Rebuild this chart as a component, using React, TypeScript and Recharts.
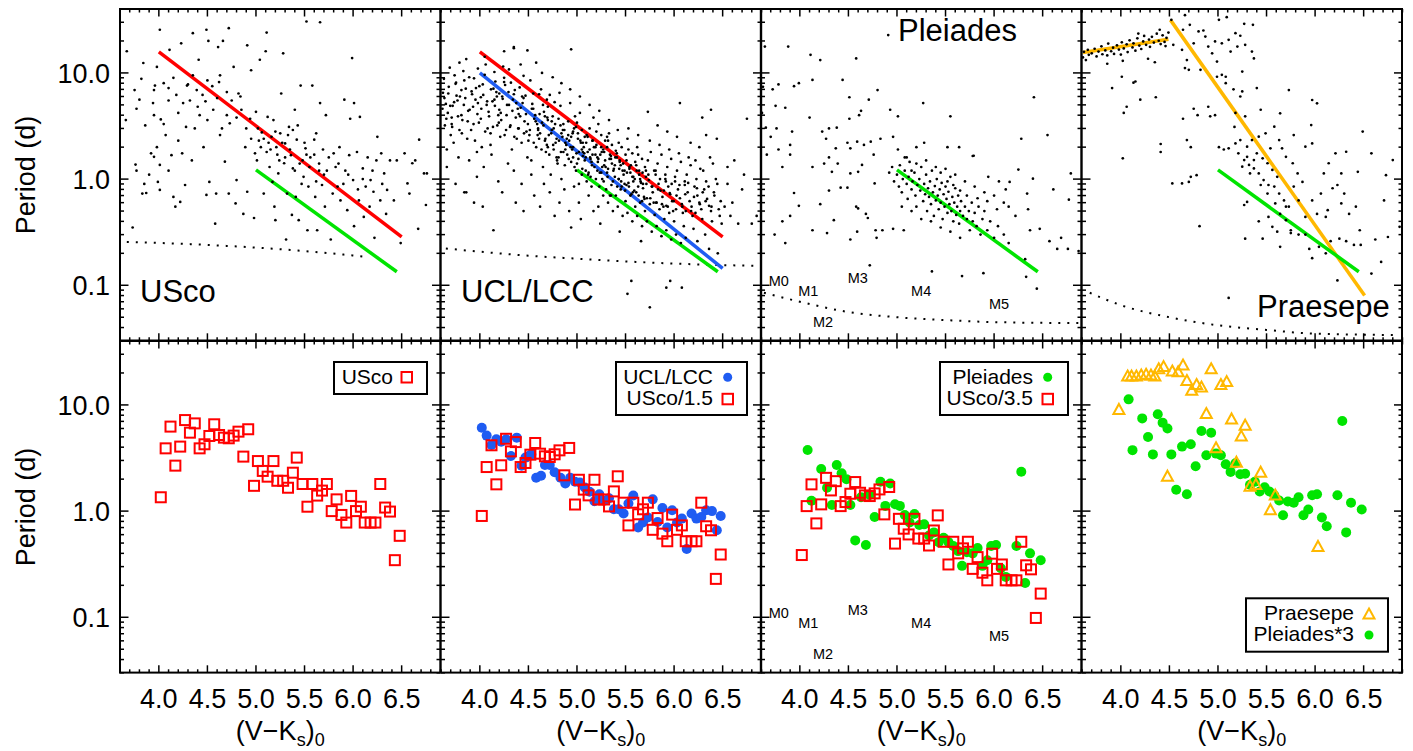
import React from 'react';
import { ComposedChart, Scatter, Line, XAxis, YAxis } from 'recharts';

type Pt = [number, number];

// ---------- axes ----------
const X_DOMAIN: [number, number] = [3.6, 6.9];
const Y_DOMAIN: [number, number] = [0.03, 40];
const X_MAJOR = [4.0, 4.5, 5.0, 5.5, 6.0, 6.5];
const X_LABELS = ['4.0', '4.5', '5.0', '5.5', '6.0', '6.5'];
const X_TICKS = [3.6, 3.7, 3.8, 3.9, 4.0, 4.1, 4.2, 4.3, 4.4, 4.5, 4.6, 4.7, 4.8, 4.9, 5.0, 5.1, 5.2, 5.3, 5.4, 5.5, 5.6, 5.7, 5.8, 5.9, 6.0, 6.1, 6.2, 6.3, 6.4, 6.5, 6.6, 6.7, 6.8, 6.9];
const Y_MAJOR = [0.1, 1, 10];
const Y_LABELS = ['0.1', '1.0', '10.0'];
const Y_TICKS = [0.03, 0.04, 0.05, 0.06, 0.07, 0.08, 0.09, 0.1, 0.2, 0.3, 0.4, 0.5, 0.6, 0.7, 0.8, 0.9, 1, 2, 3, 4, 5, 6, 7, 8, 9, 10, 20, 30, 40];

// ---------- top row: individual stars ----------
const USCO_FIELD: Pt[] = [
  [3.67,16],[3.75,6.9],[3.77,4.6],[3.76,1.37],[3.77,1.2],[3.73,0.35],[3.66,3.6],[3.84,12.4],[3.82,8.8],[3.80,5.6],[3.86,3.2],[3.87,0.74],[3.83,0.73],[3.92,1.75],[3.95,1.62],[3.98,11.4],[3.96,7.6],[3.95,6.9],[3.94,5.2],[4.01,25.5],[4.05,8],[4.02,3.65],[3.98,2.0],[4.01,1.36],[3.99,0.94],[4.01,0.79],[4.07,2.6],[4.10,5.5],[4.11,16.5],[4.13,1.68],[4.15,0.68],[4.17,0.55],[4.18,6.2],[4.20,4.2],[4.22,0.61],[4.23,19],[4.24,1.75],[4.27,0.88],[4.28,3.1],[4.29,7.6],[4.32,5.5],[4.34,1.5],[4.35,23.7],[4.37,3.0],[4.39,6.9],[4.41,13.3],[4.42,4.0],[4.46,2.0],[4.48,5.4],[4.49,25.5],[4.50,8.5],[4.52,0.94],[4.51,20],[4.49,0.71],[4.56,4.5],[4.58,0.38],[4.59,0.73],[4.61,17.5],[4.63,9.5],[4.63,2.6],[4.66,20],[4.68,1.46],[4.70,6.6],[4.72,0.73],[4.72,26.4],[4.73,3.35],[4.77,11.4],[4.79,0.59],[4.80,0.98],[4.82,6.4],[4.84,6.0],[4.87,0.47],[4.89,2.0],[4.91,18.2],[4.91,0.76],[4.94,3.7],[4.95,10.6],[4.98,0.43],[4.99,1.75],[5.00,4.3],[5.01,1.5],[5.03,2.3],[5.04,13.3],[5.06,2.75],[5.08,0.73],[5.10,16],[5.11,24],[5.11,1.8],[5.12,3.85],[5.14,1.3],[5.16,2.5],[5.17,0.94],[5.18,3.6],[5.19,0.55],[5.20,0.41],[5.21,2.0],[5.23,1.13],[5.25,2.7],[5.26,6.4],[5.28,15.3],[5.29,1.41],[5.30,2.17],[5.31,0.27],[5.32,0.73],[5.34,3.1],[5.36,1.68],[5.37,0.46],[5.38,1.26],[5.40,4.5],[5.41,0.68],[5.42,2.35],[5.43,3.2],[5.44,0.41],[5.46,7.6],[5.48,1.5],[5.49,1.05],[5.51,1.95],[5.53,0.33],[5.54,0.85],[5.56,1.6],[5.58,7.6],[5.60,2.35],[5.61,0.68],[5.62,2.7],[5.63,0.33],[5.65,1.2],[5.66,5.2],[5.68,0.88],[5.69,1.9],[5.71,0.55],[5.72,4.0],[5.73,1.2],[5.75,1.6],[5.77,0.27],[5.79,0.73],[5.80,1.75],[5.82,1.3],[5.84,0.85],[5.86,2.0],[5.87,0.63],[5.91,5.6],[5.92,1.2],[5.94,0.51],[5.96,1.68],[5.97,3.7],[5.99,13.8],[6.00,0.98],[6.01,5.2],[6.01,0.36],[6.04,1.8],[6.06,0.63],[6.07,3.85],[6.10,1.26],[6.11,0.44],[6.13,0.85],[6.15,1.6],[6.17,0.55],[6.18,0.98],[6.21,0.76],[6.22,0.28],[6.24,1.5],[6.25,2.5],[6.28,0.63],[6.29,1.75],[6.32,1.13],[6.34,0.47],[6.35,0.79],[6.38,1.5],[6.42,0.63],[6.45,1.5],[6.49,0.25],[6.53,1.75],[6.56,0.91],[6.58,0.73],[6.61,1.41],[6.64,1.5],[6.67,0.34],[6.68,2.35],[6.73,1.13],[6.75,0.57],[6.76,1.13],[5.52,30.5],[5.66,30],
  [5.05,2.0],[5.08,2.4],[5.15,1.9],[5.20,2.8],[5.22,1.7],[5.27,2.2],[5.30,1.6],[5.33,2.6],[5.35,1.9],[5.38,2.9],[5.45,1.4],[5.50,2.2],[5.55,1.3],[5.60,1.7],[5.65,1.4],[5.70,1.1],[5.02,3.0],[5.13,2.2],[5.24,1.5],[5.40,1.2],[5.47,0.9],[5.52,1.7],[5.62,0.95],[5.85,1.4],[5.90,0.9],[5.95,1.1],[6.05,0.8],[6.10,1.0],[6.20,1.2],[6.30,0.9],[4.90,3.0],[4.95,2.4],[4.85,4.5],[4.70,4.0],[4.60,5.8],[4.55,7.5],[4.45,6.2],[4.40,4.8],[4.30,7.8],[4.25,5.2],[4.15,9.0],[4.10,7.2],[4.05,3.3],[4.35,9.5],[4.62,8.2],[4.75,5.5],[4.80,3.8],[4.65,3.0],[4.50,3.6],[4.20,2.3],[4.10,1.2],[3.90,1.1],[3.85,0.9],[3.95,4.0],
];

const UCL_FIELD: Pt[] = [
  [3.62,6.5],[3.64,3.2],[3.63,8.8],[3.66,1.9],[3.65,5.1],[3.69,11.2],[3.67,4.2],[3.70,2.6],[3.68,7.4],[3.66,1.3],
  [3.74,9.5],[3.71,3.8],[3.76,6.1],[3.73,2.2],[3.79,12.5],[3.72,4.9],[3.78,1.6],[3.75,7.9],[3.71,3.3],[3.75,0.9],[3.77,5.5],[3.79,2.9],
  [3.83,10.4],[3.88,4.4],[3.81,6.9],[3.87,2.4],[3.84,8.5],[3.82,3.6],[3.89,1.5],[3.85,5.8],[3.86,13.5],[3.84,0.75],[3.86,0.75],[3.89,9.1],[3.81,4.0],
  [3.96,7.2],[3.91,2.9],[3.98,11.0],[3.93,4.8],[3.97,1.8],[3.92,6.3],[3.99,3.4],[3.94,8.9],[3.95,2.3],[3.98,5.2],[3.97,1.05],[3.94,0.6],
  [4.06,12.0],[4.01,5.9],[4.08,3.0],[4.03,7.8],[4.09,4.3],[4.02,2.0],[4.05,9.6],[4.04,1.3],[4.07,5.0],[4.03,0.55],[4.05,14.2],[4.01,3.7],
  [4.17,6.6],[4.11,2.7],[4.15,10.2],[4.19,4.0],[4.12,1.7],[4.14,7.1],[4.18,3.2],[4.13,5.4],[4.19,0.95],[4.16,8.3],[4.11,2.1],[4.14,0.33],
  [4.24,11.5],[4.28,5.0],[4.21,2.5],[4.26,7.7],[4.22,3.6],[4.29,1.4],[4.23,6.0],[4.25,9.0],[4.27,2.9],[4.23,0.75],[4.20,4.5],[4.25,16.0],
  [4.36,6.9],[4.31,3.1],[4.39,4.6],[4.33,1.9],[4.32,8.1],[4.38,2.4],[4.34,5.6],[4.35,1.2],[4.37,3.8],[4.30,10.8],[4.37,0.6],[4.35,17.5],
  [4.44,5.2],[4.48,2.8],[4.41,7.3],[4.46,3.5],[4.49,1.6],[4.42,4.7],[4.45,9.4],[4.43,2.2],[4.47,6.1],[4.43,0.9],[4.40,3.0],[4.45,0.5],[4.42,12.0],
  [4.57,4.0],[4.51,2.6],[4.55,6.4],[4.59,3.3],[4.53,1.5],[4.52,8.5],[4.58,2.0],[4.54,5.1],[4.56,3.7],[4.53,1.1],[4.56,0.7],[4.58,12.5],[4.50,2.3],
  [4.64,3.4],[4.69,5.6],[4.61,2.4],[4.66,4.3],[4.68,1.8],[4.63,7.0],[4.60,2.9],[4.65,1.3],[4.67,3.9],[4.62,0.55],[4.66,0.9],[4.64,10.0],[4.69,2.1],[4.61,6.3],
  [4.76,3.0],[4.70,4.8],[4.78,2.2],[4.72,6.2],[4.79,1.6],[4.74,3.5],[4.71,2.6],[4.73,1.1],[4.77,5.3],[4.72,0.75],[4.75,9.1],[4.77,0.45],[4.70,2.0],[4.75,3.9],
  [4.85,2.5],[4.81,3.7],[4.88,1.9],[4.83,4.9],[4.80,1.4],[4.87,2.9],[4.82,6.5],[4.89,2.1],[4.84,1.0],[4.82,0.6],[4.86,3.3],[4.87,0.8],[4.84,8.0],[4.81,1.6],
  [4.96,2.8],[4.90,1.7],[4.98,3.9],[4.92,2.3],[4.99,1.2],[4.93,5.2],[4.95,1.9],[4.91,2.6],[4.97,0.85],[4.92,0.5],[4.99,3.1],[4.94,1.45],[4.93,7.0],[4.96,2.0],[4.94,0.35],
  [5.04,2.2],[5.08,1.5],[5.00,3.4],[5.06,1.8],[5.01,2.7],[5.09,1.2],[5.03,4.2],[5.05,1.9],[5.02,0.9],[5.02,0.6],[5.07,2.0],[5.00,1.4],[5.03,6.0],[5.08,2.5],[5.04,0.42],[5.06,1.65],
  [5.16,1.7],[5.11,2.5],[5.18,1.3],[5.13,3.0],[5.19,2.0],[5.10,0.95],[5.14,1.55],[5.17,3.8],[5.12,1.15],[5.12,0.7],[5.16,2.3],[5.17,0.5],[5.13,5.0],[5.11,1.8],[5.14,1.05],
  [5.27,1.9],[5.21,1.2],[5.25,2.6],[5.29,1.5],[5.23,0.85],[5.20,2.1],[5.28,1.35],[5.22,3.3],[5.26,1.0],[5.22,0.55],[5.24,1.7],[5.27,0.7],[5.23,4.4],[5.21,1.6],[5.24,0.38],[5.29,2.3],
  [5.36,1.4],[5.31,2.0],[5.39,1.05],[5.33,2.7],[5.38,1.25],[5.30,0.8],[5.34,1.7],[5.37,0.95],[5.32,2.3],[5.32,0.6],[5.35,1.55],[5.37,0.5],[5.33,3.6],[5.31,1.15],[5.34,0.7],
  [5.47,1.2],[5.41,1.75],[5.49,0.9],[5.43,2.2],[5.48,1.1],[5.40,0.7],[5.44,1.45],[5.46,0.85],[5.42,2.9],[5.42,0.55],[5.45,1.35],[5.47,0.45],[5.43,1.0],[5.41,1.6],[5.44,0.32],
  [5.57,1.05],[5.51,1.5],[5.59,0.78],[5.53,1.9],[5.58,0.95],[5.50,0.62],[5.54,1.25],[5.56,0.72],[5.52,2.4],[5.52,0.48],[5.55,1.15],[5.57,0.4],[5.53,3.0],[5.51,0.88],[5.56,0.11],
  [5.66,0.92],[5.61,1.35],[5.69,0.68],[5.63,1.7],[5.68,0.82],[5.60,0.55],[5.64,1.1],[5.67,0.62],[5.62,2.0],[5.62,0.45],[5.65,1.0],[5.67,0.36],[5.63,2.6],[5.61,0.75],[5.66,0.26],
  [5.77,0.85],[5.71,1.2],[5.79,0.6],[5.73,1.5],[5.78,0.75],[5.70,0.5],[5.74,0.98],[5.76,1.8],[5.72,0.66],[5.72,0.4],[5.75,2.3],[5.77,0.32],[5.73,4.3],[5.71,1.05],
  [5.86,0.78],[5.81,1.1],[5.89,0.55],[5.83,1.4],[5.88,0.68],[5.80,0.46],[5.84,0.9],[5.87,1.7],[5.82,0.6],[5.82,0.36],[5.85,2.1],[5.87,0.29],[5.83,3.2],[5.81,1.2],
  [5.96,0.72],[5.91,1.0],[5.99,0.5],[5.93,1.3],[5.98,0.62],[5.90,0.42],[5.94,0.85],[5.97,1.55],[5.92,0.56],[5.92,0.33],[5.95,1.9],[5.97,0.27],[5.93,2.8],[5.91,1.1],[5.96,0.11],
  [6.06,0.66],[6.01,0.95],[6.09,0.48],[6.03,1.2],[6.08,0.58],[6.00,0.4],[6.04,0.8],[6.07,1.45],[6.02,0.52],[6.02,0.3],[6.05,1.75],[6.07,0.25],[6.03,2.5],[6.01,1.05],[6.06,5.2],
  [6.16,0.62],[6.11,0.88],[6.19,0.45],[6.13,1.1],[6.18,0.55],[6.10,0.36],[6.14,0.75],[6.17,1.35],[6.12,0.5],[6.12,0.28],[6.15,1.6],[6.17,2.2],[6.11,0.95],
  [6.26,0.6],[6.21,0.85],[6.29,0.42],[6.23,1.0],[6.28,0.52],[6.20,0.34],[6.24,0.7],[6.27,1.25],[6.22,0.48],[6.22,1.5],[6.26,2.0],[6.24,0.26],[6.29,3.8],
  [6.36,0.56],[6.31,0.8],[6.39,0.4],[6.33,0.95],[6.38,0.5],[6.30,1.2],[6.34,0.65],[6.37,1.6],[6.32,0.3],[6.33,2.6],[6.36,0.22],[6.38,4.5],
  [6.46,0.52],[6.41,0.75],[6.49,0.38],[6.43,1.0],[6.48,0.62],[6.40,1.4],[6.44,2.4],[6.47,0.45],[6.45,0.2],
  [6.52,0.55],[6.55,0.9],[6.58,0.45],[6.62,1.5],[6.66,0.38],[6.70,0.8],[6.75,3.7],[6.80,0.38],[6.55,1.3],[6.60,0.6],[6.72,1.1],[6.85,0.45],
  [4.94,16.7],[4.35,17.1],[4.49,16.3],[5.52,0.083],[5.75,0.062],[5.92,0.095],[6.08,0.095],
  [4.62,2.7],[4.67,2.3],[4.70,3.6],[4.74,2.9],[4.76,1.9],[4.79,2.4],[4.83,3.2],[4.84,2.7],[4.86,1.8],[4.88,2.2],[4.91,3.5],[4.94,2.5],[4.96,1.6],[4.97,3.0],[5.01,2.4],[5.02,1.8],[5.05,2.9],[5.06,2.2],[5.09,1.6],[5.10,2.6],[5.13,1.9],[5.15,1.45],[5.16,2.3],[5.19,1.7],[5.20,2.8],[5.22,1.55],[5.25,2.0],[5.26,1.3],[5.28,1.8],[5.31,2.5],[5.32,1.25],[5.35,1.65],[5.36,2.1],[5.39,1.35],[5.40,1.85],[5.43,1.0],[5.44,1.5],[5.46,2.0],[5.49,1.2],[5.50,1.7],[5.53,0.92],[5.54,1.3],[5.57,1.75],[5.58,1.05],[5.60,1.45],[5.63,0.85],[5.64,1.2],[5.67,1.55],[5.68,0.9],[5.70,1.3],[5.05,1.1],[5.15,0.85],[5.25,1.15],[5.35,0.7],[5.45,0.8],[5.55,0.7],[5.65,0.6],[5.75,0.58],[5.85,0.52],[5.95,0.48],[4.55,4.6],[4.60,3.0],[4.65,5.0],[4.45,5.8],[4.40,4.1],[4.35,6.3],[4.30,5.0],[4.25,8.2],[4.20,6.4],[4.15,5.6],
  [3.615,4.6],[3.635,5.8],[3.655,3.7],[3.675,6.4],[3.695,4.9],[3.715,3.1],[3.735,5.3],[3.755,8.1],[3.775,3.9],[3.795,6.0],[3.815,2.7],[3.835,5.0],[3.855,7.1],[3.875,3.5],[3.895,4.5],[3.915,6.7],[3.935,3.3],[3.955,5.6],[3.975,4.1],[3.995,7.5],
  [4.015,4.6],[4.035,6.2],[4.055,2.8],[4.075,5.4],[4.095,3.9],[4.115,7.0],[4.135,3.1],[4.155,4.9],[4.175,6.0],[4.195,3.4],[4.215,4.2],[4.235,5.7],[4.255,2.6],[4.275,4.0],[4.295,6.6],[4.315,3.2],[4.335,4.4],[4.355,2.5],[4.375,5.2],[4.395,3.0],[4.415,3.9],[4.435,6.0],[4.455,2.7],[4.475,4.1],[4.495,3.3],
  [4.515,2.9],[4.535,4.6],[4.555,2.2],[4.575,3.5],[4.595,2.6],[4.615,4.1],[4.635,1.9],[4.655,3.2],[4.675,2.4],[4.695,3.8],[4.715,1.7],[4.735,2.7],[4.755,2.1],[4.775,3.3],[4.795,1.5],[4.815,2.3],[4.835,1.8],[4.855,2.9],[4.875,1.35],[4.895,2.4],[4.915,1.55],[4.935,2.0],[4.955,2.7],[4.975,1.3],[4.995,1.75],
  [5.015,1.55],[5.035,2.3],[5.055,1.25],[5.075,1.75],[5.095,2.2],[5.115,1.1],[5.135,1.6],[5.155,1.35],[5.175,2.0],[5.195,1.0],[5.215,1.45],[5.235,1.15],[5.255,1.8],[5.275,0.95],[5.295,1.3],[5.315,1.05],[5.335,1.55],[5.355,0.88],[5.375,1.2],[5.395,1.6],[5.415,0.85],[5.435,1.25],[5.455,0.95],[5.475,1.4],[5.495,0.78],
  [5.515,1.15],[5.535,0.85],[5.555,1.35],[5.575,0.75],[5.595,1.0],[5.615,1.2],[5.635,0.7],[5.655,0.95],[5.675,1.15],[5.695,0.65],[5.715,0.9],[5.735,1.1],[5.755,0.66],[5.775,0.85],[5.795,1.2],[5.815,0.6],[5.835,0.8],[5.855,1.0],[5.875,0.58],[5.895,0.78],[5.915,0.95],[5.935,0.55],[5.955,0.74],[5.975,0.9],[5.995,0.62],
  [6.025,0.7],[6.055,0.88],[6.085,0.55],[6.115,0.72],[6.145,0.92],[6.175,0.5],[6.205,0.68],[6.235,0.82],[6.265,0.58],[6.295,0.75],[6.325,0.62],[6.355,0.85],[6.385,0.55],[6.415,0.7],[6.445,0.9],
];

const PLE_FIELD: Pt[] = [
  [3.64,17.7],[3.88,17.7],[4.11,14.8],[4.21,13.2],[4.58,13.7],[4.91,22.7],[3.62,7.4],[3.72,7.0],[3.78,7.8],[3.94,7.5],[3.99,8.0],[4.13,8.6],[4.44,8.6],[4.80,6.9],[4.51,5.9],[4.71,5.6],[5.27,5.2],[3.75,4.9],[3.85,4.7],[3.61,4.2],[4.63,4.4],[4.61,4.0],[4.93,4.5],[5.01,3.9],[5.55,3.9],[4.10,3.8],[4.51,3.7],[3.65,3.05],[3.76,3.0],[3.92,2.8],[4.23,2.8],[4.30,3.0],[4.38,3.05],[3.70,2.5],[3.78,1.9],[3.90,2.1],[3.66,1.7],[3.90,1.7],[4.27,2.4],[4.37,1.95],[4.30,1.6],[4.25,1.4],[4.39,1.4],[4.49,2.2],[4.52,1.95],[4.59,2.25],[4.66,2.1],[4.73,2.25],[4.76,1.7],[4.83,2.4],[4.96,2.5],[5.01,1.9],[5.08,1.6],[5.20,2.0],[5.28,2.2],[5.52,2.0],[5.64,2.0],[5.78,1.65],[3.82,1.3],[4.13,1.3],[4.33,1.17],[4.52,1.13],[4.60,1.17],[4.77,0.91],[4.64,1.36],[3.94,0.74],[3.99,0.56],[3.90,0.45],[3.82,0.4],[3.74,0.3],[3.85,0.25],[4.13,0.33],[4.21,0.58],[4.30,0.78],[4.35,0.41],[4.28,0.31],[4.42,0.83],[4.49,0.83],[4.58,0.55],[4.60,0.53],[4.68,0.47],[4.59,0.32],[4.52,0.27],[4.70,0.43],[4.79,0.28],[4.78,0.33],[4.85,0.33],[4.96,0.34],[5.07,0.33],[4.72,0.154],[5.36,0.135],[5.67,0.122],[5.89,0.13],[6.44,0.093],[6.33,0.12],[6.32,0.176],[6.37,0.33],[6.41,5.9],[6.28,2.4],[6.55,2.6],[6.25,1.23],[6.40,1.01],[6.61,0.8],[6.77,0.64],[6.79,1.13],[6.35,0.52],[6.47,0.34],[6.57,0.26],[6.65,0.22],[6.69,0.28],[6.76,0.22],[6.87,0.21],[6.34,0.73],[6.16,0.94],[5.94,1.05],[5.79,1.66],
  [4.92,1.15],[4.95,1.3],[4.97,0.95],[5.00,1.1],[5.02,0.85],[5.03,1.35],[5.05,0.75],[5.06,1.0],[5.08,1.2],[5.10,0.9],[5.11,0.65],[5.12,1.05],[5.13,1.45],[5.15,0.8],[5.16,0.95],[5.18,1.15],[5.19,0.7],[5.20,0.55],[5.21,0.88],[5.23,1.0],[5.24,0.78],[5.25,1.3],[5.27,0.62],[5.28,0.9],[5.29,0.72],[5.30,1.1],[5.31,0.5],[5.32,0.82],[5.33,0.68],[5.34,0.95],[5.35,0.58],[5.36,1.2],[5.37,0.75],[5.38,0.45],[5.39,0.86],[5.40,0.63],[5.41,1.0],[5.42,0.7],[5.43,0.52],[5.44,0.8],[5.45,0.6],[5.46,0.92],[5.47,0.42],[5.48,0.72],[5.49,0.55],[5.50,0.85],[5.51,0.65],[5.52,0.48],[5.53,0.76],[5.54,0.58],[5.55,1.05],[5.56,0.5],[5.57,0.68],[5.58,0.4],[5.59,0.6],[5.60,0.82],[5.61,0.46],[5.62,0.55],[5.63,0.7],[5.64,0.38],[5.65,0.5],[5.66,0.62],[5.68,0.45],[5.70,0.55],[5.72,0.42],[5.74,0.5],[5.75,0.33],[5.77,0.6],[5.78,0.4],[5.80,0.48],[5.82,0.36],[5.84,0.55],[5.86,0.3],[5.88,0.42],[5.90,0.5],[5.93,0.33],[5.96,0.4],[6.00,0.28],[6.04,0.36],[6.10,0.3],[6.15,0.25],[5.05,0.55],[5.15,0.5],[5.25,0.42],[5.35,0.4],[5.45,0.35],[5.55,0.32],[5.65,0.28],[5.10,1.6],[5.20,1.4],[5.30,1.5],[5.40,1.3],[5.50,1.25],[5.60,1.1],[5.70,0.95],[5.80,0.85],[5.90,0.75],[6.00,0.7],[6.10,0.6],[5.15,1.2],[5.45,1.15],[5.52,0.95],[5.58,0.88],[5.65,0.78],[5.72,0.7],[5.83,0.66],[5.93,0.62],[6.03,0.52],[6.15,0.55],[6.22,0.45],[6.05,0.95],[6.12,0.8],
];

const PRA_FIELD: Pt[] = [
  [3.61,14.0],[3.62,15.8],[3.64,13.2],[3.66,16.5],[3.67,14.8],[3.70,15.3],[3.73,16.9],[3.75,14.3],[3.77,15.9],[3.80,17.8],[3.81,15.0],[3.84,16.3],[3.86,14.6],[3.87,18.9],[3.90,16.0],[3.92,17.3],[3.93,15.1],[3.96,18.2],[3.98,16.6],[4.00,14.9],[4.01,19.4],[4.03,17.0],[4.06,18.6],[4.07,15.7],[4.09,20.3],[4.12,17.4],[4.13,19.0],[4.15,16.2],[4.17,21.2],[4.19,18.1],[4.21,16.8],[4.23,19.8],[4.24,22.3],[4.26,18.4],[4.29,20.6],[4.30,17.6],[4.32,21.9],[4.34,19.3],[4.35,12.6],[4.37,23.4],[4.39,20.1],[4.41,18.7],[4.43,22.6],[4.45,19.6],[4.47,21.4],[4.49,24.0],[4.46,17.9],[4.28,13.6],[4.02,13.0],[3.86,12.2],[4.18,23.5],[4.40,25.5],
  [3.91,7.2],[4.01,9.2],[4.13,8.1],[4.15,8.3],[4.20,5.6],[4.06,4.8],[4.03,4.2],[4.36,5.9],[4.02,1.57],[4.41,2.14],[4.41,1.8],[4.53,0.91],[4.63,0.91],[4.68,2.33],[4.72,2.0],[4.70,0.94],[4.72,1.05],[4.78,1.09],[4.81,0.36],[4.64,3.7],[4.75,4.6],[4.79,4.0],[4.90,4.8],[4.92,3.9],[4.97,4.0],
  [4.52,31.6],[4.66,35],[4.64,25.5],[4.71,28.4],[4.80,24.6],[4.85,25.1],[4.87,22],[4.54,18.4],[4.63,16.5],[4.68,13.2],[4.66,11.1],[4.70,10.7],[4.75,19],[4.82,10.7],[4.90,17.7],[4.94,15.3],[4.97,19.8],[4.99,12.8],[5.01,31.6],[5.04,19],[5.09,33.5],[5.11,20.5],[5.13,15.9],[5.18,23.7],[5.20,17.7],[5.23,22.4],[5.27,29],[5.28,18.4],[5.36,28.4],[5.35,15.9],[5.37,13.7],[5.25,10.3],[5.04,9.6],[5.08,9.2],[4.99,9.2],[5.08,8.0],[5.16,7.0],[5.23,6.0],[5.25,6.7],[5.40,7.2],[5.18,4.2],[5.28,3.9],[5.44,4.5],[5.17,3.1],[5.06,1.9],[5.11,1.95],[5.01,2.0],
  [5.18,2.17],[5.23,2.33],[5.30,2.02],[5.35,2.33],[5.40,1.75],[5.46,1.57],[5.51,1.41],[5.56,1.22],[5.61,1.05],[5.21,1.75],[5.27,1.51],[5.32,1.36],[5.37,1.26],[5.42,1.13],[5.47,0.98],[5.52,0.88],[5.58,0.85],[5.63,0.73],[5.68,0.63],[5.73,0.55],[5.25,1.31],[5.33,1.13],[5.44,0.88],[5.51,0.73],[5.59,0.59],[5.64,0.47],[5.70,0.41],[5.75,0.33],[5.54,1.95],[5.63,2.33],[5.66,1.95],[5.58,3.12],[5.64,4.16],[5.78,2.6],[5.70,1.62],[5.77,1.41],[5.82,1.13],[5.87,0.94],[5.90,2.02],[5.97,2.17],[5.96,3.23],[5.97,5.56],[6.02,5.17],[5.73,6.9],[5.42,2.51],[5.49,2.7],[5.37,1.51],[5.30,1.62],[5.27,0.57],[5.30,0.61],[5.42,0.4],[5.46,0.275],[5.28,0.275],[5.56,0.355],[5.64,0.23],[5.75,0.31],[5.83,0.3],[5.90,0.3],[5.94,0.22],[5.97,0.18],[6.04,0.23],[6.11,0.2],[6.16,0.26],[6.23,0.111],[6.25,0.275],[6.32,0.26],[6.40,0.24],[6.46,0.33],[6.42,0.55],[6.35,0.47],[6.27,0.59],[6.30,0.73],[6.23,0.88],[6.18,0.82],[6.13,0.51],[6.09,1.13],[6.14,1.41],[6.21,1.75],[6.27,1.13],[6.32,1.81],[6.44,1.17],[6.49,2.8],[6.58,1.75],[6.71,0.63],[6.80,1.51],[6.73,1.09],[6.87,0.355],[6.75,0.285],[6.68,0.166],[6.62,0.27],[6.58,0.129],[6.47,0.24],[5.11,0.076],[5.52,0.44],[5.61,0.32],[5.70,0.55],[5.78,0.85],[5.83,0.63],[5.90,0.44],[6.02,0.47],[5.97,0.63],[6.06,0.73],[6.11,0.44],
];

// ---------- fitted relations ----------
const RED_FIT: Pt[] = [[4.0, 15.8], [6.5, 0.286]];
const GREEN_FIT: Pt[] = [[5.0, 1.22], [6.45, 0.134]];
const BLUE_FIT: Pt[] = [[4.0, 10.0], [6.5, 0.144]];
const PRA_FIT_A: Pt[] = [[3.61, 15.6], [4.49, 20.8]];
const PRA_FIT_B: Pt[] = [[4.51, 31.6], [6.51, 0.08]];

// ---------- breakup-period limits (dotted) ----------
const USCO_LIMIT: Pt[] = [[3.67, 0.256], [4.5, 0.24], [5.5, 0.21], [6.15, 0.185]];
const UCL_LIMIT: Pt[] = [[3.65, 0.222], [4.5, 0.19], [5.0, 0.178], [6.0, 0.16], [6.9, 0.152]];
const PLE_LIMIT: Pt[] = [[3.63, 0.085], [4.0, 0.07], [4.5, 0.056], [5.0, 0.05], [5.5, 0.047], [6.0, 0.045], [6.9, 0.044]];
const PRA_LIMIT: Pt[] = [[3.68, 0.085], [4.0, 0.065], [4.5, 0.05], [5.0, 0.042], [5.5, 0.038], [6.0, 0.035], [6.85, 0.034]];

// ---------- spectral type labels ----------
const SPT_LABELS = ['M0', 'M1', 'M2', 'M3', 'M4', 'M5'];
const SPT_X = [3.783, 4.087, 4.238, 4.597, 5.249, 6.051];
const SPT_Y = [0.1096, 0.0882, 0.0453, 0.1177, 0.0882, 0.0676];

// ---------- bottom row: running medians ----------
const USCO_MED: Pt[] = [
  [4.02,1.35],[4.07,3.9],[4.12,6.25],[4.17,2.68],[4.22,4.05],[4.27,7.2],[4.32,5.48],[4.37,6.7],[4.42,3.9],[4.47,4.26],[4.52,5.1],[4.57,6.57],[4.62,5.21],[4.67,4.92],[4.72,4.85],[4.77,5.14],[4.82,5.6],[4.87,3.26],[4.92,5.9],[4.98,1.73],[5.02,2.96],[5.07,2.39],[5.12,2.11],[5.18,2.96],[5.22,1.93],[5.28,1.93],[5.33,1.66],[5.38,2.3],[5.42,3.19],[5.48,1.8],[5.53,1.1],[5.58,1.8],[5.63,1.4],[5.68,1.56],[5.73,1.8],[5.78,1.0],[5.83,1.29],[5.88,0.92],[5.93,0.78],[5.98,1.39],[6.03,1.0],[6.08,1.1],[6.12,0.78],[6.18,0.78],[6.23,0.78],[6.28,1.8],[6.33,1.08],[6.38,0.99],[6.43,0.345],[6.48,0.585],
];
const UCL_MED: Pt[] = [
  [4.02,6.1],[4.07,5.14],[4.12,4.2],[4.17,4.75],[4.22,4.5],[4.27,4.75],[4.32,3.3],[4.38,4.92],[4.43,2.68],[4.47,3.19],[4.51,3.33],[4.53,3.42],[4.58,2.06],[4.63,2.15],[4.67,2.72],[4.72,2.72],[4.77,2.32],[4.83,2.06],[4.88,1.82],[4.93,2.06],[4.98,1.89],[5.03,1.86],[5.08,1.67],[5.13,1.52],[5.18,1.24],[5.23,1.44],[5.28,1.25],[5.33,1.32],[5.38,1.04],[5.43,1.04],[5.48,0.95],[5.53,1.18],[5.58,1.4],[5.63,0.7],[5.68,0.78],[5.73,0.87],[5.78,1.29],[5.83,0.79],[5.88,1.07],[5.93,0.7],[5.98,1.02],[6.03,0.78],[6.08,0.85],[6.13,0.44],[6.18,0.95],[6.23,0.85],[6.28,0.88],[6.33,1.02],[6.39,1.0],[6.44,0.66],[6.48,0.9],
];
const PLE_MED: Pt[] = [
  [4.08,3.76],[4.12,1.25],[4.22,2.49],[4.28,1.66],[4.33,1.14],[4.38,2.72],[4.43,2.27],[4.48,2.0],[4.52,1.14],[4.57,0.53],[4.63,1.35],[4.68,0.48],[4.72,1.42],[4.77,0.88],[4.83,1.89],[4.88,1.12],[4.93,1.82],[4.98,1.16],[5.03,1.12],[5.08,0.92],[5.13,0.78],[5.18,0.94],[5.23,0.74],[5.28,0.75],[5.33,0.59],[5.38,0.63],[5.43,0.51],[5.48,0.56],[5.53,0.51],[5.58,0.47],[5.63,0.42],[5.67,0.305],[5.72,0.41],[5.78,0.4],[5.83,0.45],[5.88,0.305],[5.93,0.345],[5.97,0.47],[6.02,0.48],[6.07,0.29],[6.12,0.24],[6.23,0.47],[6.28,2.35],[6.32,0.21],[6.37,0.4],[6.48,0.345],
];
const PRA_MED: Pt[] = [
  [3.98,8.97],[4.07,18.5],[4.11,18.5],[4.16,18.5],[4.21,18.9],[4.26,19.2],[4.31,18.9],[4.35,18.5],[4.39,21.7],[4.44,22.7],[4.48,2.11],[4.53,20.6],[4.59,20.3],[4.64,23.5],[4.68,16.8],[4.73,13.6],[4.78,15.4],[4.83,14.6],[4.88,8.2],[4.93,21.7],[4.98,3.9],[5.03,15.4],[5.09,16.4],[5.14,7.3],[5.19,2.86],[5.24,5.03],[5.28,6.38],[5.33,1.7],[5.39,1.76],[5.44,2.3],[5.54,1.02],[5.59,1.4],[6.03,0.46],
];
const USCO_SCALE_UCL = 1.5;
const USCO_SCALE_PLE = 3.5;
const PLE_SCALE_PRA = 3;

// ---------- helpers ----------
const FONT = '"Liberation Sans", Arial, Helvetica, sans-serif';
const RED = '#ff0000';
const GREEN = '#00e400';
const BLUE = '#1f5cf2';
const ORANGE = '#ffb800';

const toObj = (a: Pt[]) => a.map(([x, y]) => ({ x, y }));
const scaleY = (a: Pt[], f: number) => a.map(([x, y]) => ({ x, y: y * f }));
const SPT_DATA = SPT_LABELS.map((label, i) => ({ x: SPT_X[i], y: SPT_Y[i], label }));

const PANEL_LEFTS = [120, 440.5, 761, 1081.5];
const ROW_TOPS = [9, 340.8];
const PW = 320.5;
const PH = 331.8;
const ML = 90, MR = 20, MT = 20, MB = 50;

const smallDot = (p: any) => <circle cx={p.cx} cy={p.cy} r={1.35} fill="#000" />;
const redSquare = (p: any) => (
  <rect x={p.cx - 5} y={p.cy - 5} width={10} height={10} fill="none" stroke={RED} strokeWidth={2} />
);
const disc = (color: string) => (p: any) => <circle cx={p.cx} cy={p.cy} r={5} fill={color} />;
const triangle = (p: any) => (
  <polygon
    points={`${p.cx},${p.cy - 6} ${p.cx + 5.5},${p.cy + 4} ${p.cx - 5.5},${p.cy + 4}`}
    fill="none" stroke={ORANGE} strokeWidth={2} strokeLinejoin="miter"
  />
);
const sptText = (p: any) => (
  <text x={p.cx} y={p.cy + 5.2} textAnchor="middle" fontSize={14.5} fontFamily={FONT} fill="#000">
    {p.payload?.label}
  </text>
);

function scatter(key: string, data: any[], shape: any) {
  return <Scatter key={key} xAxisId="x" yAxisId="y" data={data} shape={shape} isAnimationActive={false} />;
}
function line(key: string, data: Pt[], color: string, width: number, dash?: string) {
  return (
    <Line
      key={key} xAxisId="x" yAxisId="y" data={toObj(data)} dataKey="y" type="monotone"
      stroke={color} strokeWidth={width} strokeDasharray={dash} dot={false} activeDot={false}
      isAnimationActive={false} strokeLinecap="butt"
    />
  );
}

function panel(key: string, col: number, row: number, series: React.ReactNode[]) {
  const left = PANEL_LEFTS[col];
  const top = ROW_TOPS[row];
  const pT = MT, pB = MT + PH, pL = ML, pR = ML + PW;
  const showX = row === 1;
  const showY = col === 0;
  const xTick = (p: any) => {
    const v = p.payload.value;
    const x = p.payload.coordinate ?? p.x;
    const mi = X_MAJOR.findIndex((m) => Math.abs(m - v) < 1e-6);
    const len = mi >= 0 ? 7.5 : 3.5;
    return (
      <g>
        <line x1={x} x2={x} y1={pB} y2={pB - len} stroke="#000" strokeWidth={1.5} />
        <line x1={x} x2={x} y1={pT} y2={pT + len} stroke="#000" strokeWidth={1.5} />
        {showX && mi >= 0 ? (
          <text x={x} y={pB + 35.7} textAnchor="middle" fontSize={27} fontFamily={FONT} fill="#000">
            {X_LABELS[mi]}
          </text>
        ) : null}
      </g>
    );
  };
  const yTick = (p: any) => {
    const v = p.payload.value;
    const y = p.payload.coordinate ?? p.y;
    const mi = Y_MAJOR.findIndex((m) => Math.abs(m - v) / m < 1e-6);
    const len = mi >= 0 ? 8.5 : 4;
    return (
      <g>
        <line x1={pL} x2={pL + len} y1={y} y2={y} stroke="#000" strokeWidth={1.5} />
        <line x1={pR} x2={pR - len} y1={y} y2={y} stroke="#000" strokeWidth={1.5} />
        {showY && mi >= 0 ? (
          <text x={pL - 10} y={y + 9.7} textAnchor="end" fontSize={27} fontFamily={FONT} fill="#000">
            {Y_LABELS[mi]}
          </text>
        ) : null}
      </g>
    );
  };
  return (
    <div key={key} style={{ position: 'absolute', left: left - ML, top: top - MT }}>
      <ComposedChart width={PW + ML + MR} height={PH + MT + MB} margin={{ top: MT, right: MR, bottom: 0, left: 0 }}>
        <XAxis
          xAxisId="x" dataKey="x" type="number" domain={X_DOMAIN} allowDataOverflow ticks={X_TICKS}
          interval={0} height={MB} axisLine={false} tickLine={false} tickSize={0} tickMargin={0} tick={xTick}
        />
        <YAxis
          yAxisId="y" dataKey="y" type="number" scale="log" domain={Y_DOMAIN} allowDataOverflow ticks={Y_TICKS}
          interval={0} width={ML} axisLine={false} tickLine={false} tickSize={0} tickMargin={0} tick={yTick}
        />
        {series}
      </ComposedChart>
    </div>
  );
}

function Overlay() {
  const txt = { fontFamily: FONT, fill: '#000' } as const;
  const xTitleCenters = PANEL_LEFTS.map((l) => l + PW / 2);
  return (
    <svg width={1413} height={751} style={{ position: 'absolute', left: 0, top: 0, pointerEvents: 'none' }}>
      <rect x={120} y={9} width={1282} height={663.6} fill="none" stroke="#000" strokeWidth={2} />
      {[440.5, 761, 1081.5].map((x) => (
        <line key={x} x1={x} x2={x} y1={9} y2={672.6} stroke="#000" strokeWidth={2.4} />
      ))}
      <line x1={120} x2={1402} y1={340.8} y2={340.8} stroke="#000" strokeWidth={2.4} />

      <text x={140} y={301.7} fontSize={31} {...txt}>USco</text>
      <text x={461} y={301.7} fontSize={31} {...txt}>UCL/LCC</text>
      <text x={898} y={40.7} fontSize={31} {...txt}>Pleiades</text>
      <text x={1257} y={316.7} fontSize={31} {...txt}>Praesepe</text>

      {[175, 507].map((cy) => (
        <text key={cy} transform={`translate(35, ${cy}) rotate(-90)`} textAnchor="middle" fontSize={27} {...txt}>
          Period (d)
        </text>
      ))}

      {xTitleCenters.map((cx) => (
        <text key={cx} x={cx} y={739.5} textAnchor="middle" fontSize={27} {...txt}>
          (V−K<tspan fontSize={18} dy={6}>s</tspan>
          <tspan dy={-6}>)</tspan>
          <tspan fontSize={18} dy={6}>0</tspan>
        </text>
      ))}

      <rect x={334} y={362} width={93} height={32} fill="#fff" stroke="#000" strokeWidth={2} />
      <text x={393} y={384} textAnchor="end" fontSize={21} {...txt}>USco</text>
      <rect x={401.5} y={372} width={10.5} height={10.5} fill="none" stroke={RED} strokeWidth={2} />

      <rect x={616} y={362} width={131} height={53} fill="#fff" stroke="#000" strokeWidth={2} />
      <text x={713} y={383.5} textAnchor="end" fontSize={21} {...txt}>UCL/LCC</text>
      <circle cx={727.7} cy={377.3} r={4.5} fill={BLUE} />
      <text x={713} y={404.5} textAnchor="end" fontSize={21} {...txt}>USco/1.5</text>
      <rect x={722.5} y={393.8} width={10.5} height={10.5} fill="none" stroke={RED} strokeWidth={2} />

      <rect x={940} y={362} width={128} height={53} fill="#fff" stroke="#000" strokeWidth={2} />
      <text x={1033} y={383.5} textAnchor="end" fontSize={21} {...txt}>Pleiades</text>
      <circle cx={1047.7} cy={377.3} r={4.5} fill={GREEN} />
      <text x={1033} y={404.5} textAnchor="end" fontSize={21} {...txt}>USco/3.5</text>
      <rect x={1042.5} y={393.8} width={10.5} height={10.5} fill="none" stroke={RED} strokeWidth={2} />

      <rect x={1246} y={598.3} width={142} height={53.4} fill="#fff" stroke="#000" strokeWidth={2} />
      <text x={1354} y={620} textAnchor="end" fontSize={21} {...txt}>Praesepe</text>
      <polygon points="1369,608.5 1374.5,618.5 1363.5,618.5" fill="none" stroke={ORANGE} strokeWidth={2} />
      <text x={1354} y={641} textAnchor="end" fontSize={21} {...txt}>Pleiades*3</text>
      <circle cx={1369} cy={635} r={4.5} fill={GREEN} />
    </svg>
  );
}

export default function App() {
  return (
    <div style={{ position: 'absolute', left: 0, top: 0, width: 1413, height: 751, background: '#fff', fontFamily: FONT }}>
      {panel('p1', 0, 0, [
        scatter('d', toObj(USCO_FIELD), smallDot),
        line('lim', USCO_LIMIT, '#000', 2, '2 7'),
        line('r', RED_FIT, RED, 3.5),
        line('g', GREEN_FIT, GREEN, 3.5),
      ])}
      {panel('p2', 1, 0, [
        scatter('d', toObj(UCL_FIELD), smallDot),
        line('lim', UCL_LIMIT, '#000', 2, '2 7'),
        line('r', RED_FIT, RED, 3.5),
        line('g', GREEN_FIT, GREEN, 3.5),
        line('b', BLUE_FIT, BLUE, 3.5),
      ])}
      {panel('p3', 2, 0, [
        scatter('d', toObj(PLE_FIELD), smallDot),
        line('lim', PLE_LIMIT, '#000', 2, '2 7'),
        line('g', GREEN_FIT, GREEN, 3.5),
        scatter('spt', SPT_DATA, sptText),
      ])}
      {panel('p4', 3, 0, [
        scatter('d', toObj(PRA_FIELD), smallDot),
        line('lim', PRA_LIMIT, '#000', 2, '2 7'),
        line('oa', PRA_FIT_A, ORANGE, 3.5),
        line('ob', PRA_FIT_B, ORANGE, 3.5),
        line('g', GREEN_FIT, GREEN, 3.5),
      ])}
      {panel('p5', 0, 1, [scatter('u', toObj(USCO_MED), redSquare)])}
      {panel('p6', 1, 1, [
        scatter('c', toObj(UCL_MED), disc(BLUE)),
        scatter('u', scaleY(USCO_MED, 1 / USCO_SCALE_UCL), redSquare),
      ])}
      {panel('p7', 2, 1, [
        scatter('p', toObj(PLE_MED), disc(GREEN)),
        scatter('u', scaleY(USCO_MED, 1 / USCO_SCALE_PLE), redSquare),
        scatter('spt', SPT_DATA, sptText),
      ])}
      {panel('p8', 3, 1, [
        scatter('p', scaleY(PLE_MED, PLE_SCALE_PRA), disc(GREEN)),
        scatter('t', toObj(PRA_MED), triangle),
      ])}
      <Overlay />
    </div>
  );
}
